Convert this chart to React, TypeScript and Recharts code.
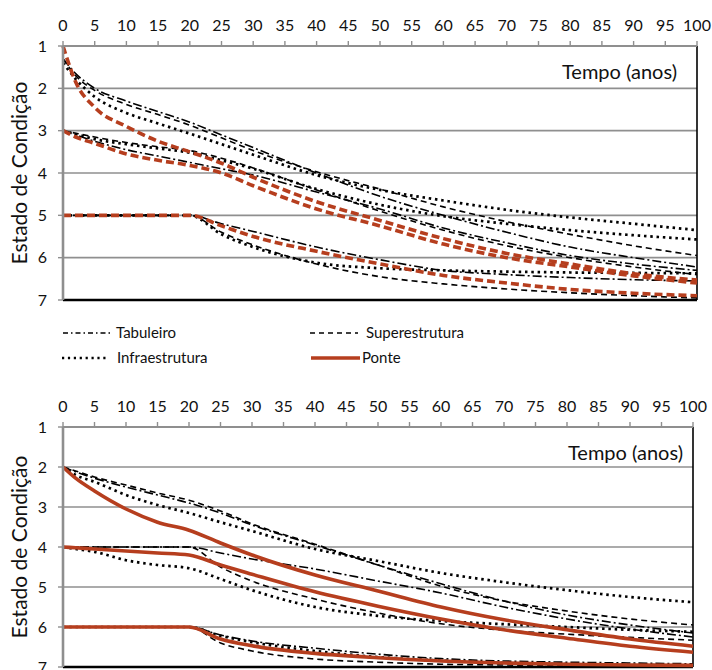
import React from 'react';
import { LineChart, Line, XAxis, YAxis, CartesianGrid, ReferenceLine, Label } from 'recharts';

// ---------- data ----------
const ANOS = [0, 2, 5, 10, 15, 20, 25, 30, 40, 50, 60, 70, 80, 90, 100];
const TICKS_X = [0, 5, 10, 15, 20, 25, 30, 35, 40, 45, 50, 55, 60, 65, 70, 75, 80, 85, 90, 95, 100];
const TICKS_Y = [1, 2, 3, 4, 5, 6, 7];

// top panel (Ponte dashed)
const tabA_top = [1.3, 1.65, 2.0, 2.3, 2.55, 2.8, 3.1, 3.4, 4.0, 4.55, 5.0, 5.4, 5.75, 6.0, 6.22];
const supA_top = [1.3, 1.7, 2.05, 2.38, 2.62, 2.87, 3.17, 3.47, 3.97, 4.38, 4.8, 5.15, 5.45, 5.72, 5.95];
const infA_top = [1.4, 1.78, 2.2, 2.58, 2.83, 3.07, 3.32, 3.57, 4.05, 4.4, 4.65, 4.87, 5.05, 5.2, 5.35];
const ponA_top = [1.0, 1.85, 2.45, 2.9, 3.25, 3.5, 3.77, 4.1, 4.68, 5.12, 5.55, 5.9, 6.15, 6.38, 6.53];

const tabB_top = [3.0, 3.1, 3.25, 3.45, 3.6, 3.75, 3.9, 4.05, 4.45, 4.85, 5.3, 5.65, 5.95, 6.15, 6.3];
const supB_top = [3.0, 3.06, 3.15, 3.28, 3.38, 3.47, 3.65, 3.88, 4.4, 4.9, 5.35, 5.72, 6.0, 6.22, 6.4];
const infB_top = [3.0, 3.08, 3.2, 3.32, 3.42, 3.52, 3.7, 3.9, 4.38, 4.75, 5.02, 5.2, 5.35, 5.47, 5.57];
const ponB_top = [3.0, 3.15, 3.3, 3.55, 3.7, 3.82, 4.0, 4.3, 4.85, 5.25, 5.68, 6.0, 6.22, 6.43, 6.6];

const tabC_top = [5, 5, 5, 5, 5, 5, 5.2, 5.38, 5.75, 6.05, 6.3, 6.4, 6.47, 6.52, 6.55];
const supC_top = [5, 5, 5, 5, 5, 5, 5.4, 5.7, 6.15, 6.45, 6.62, 6.74, 6.83, 6.9, 6.95];
const infC_top = [5, 5, 5, 5, 5, 5, 5.45, 5.75, 6.12, 6.25, 6.3, 6.33, 6.35, 6.36, 6.37];
const ponC_top = [5, 5, 5, 5, 5, 5, 5.25, 5.5, 5.85, 6.15, 6.42, 6.6, 6.75, 6.84, 6.9];

// bottom panel (Ponte solid)
const tabA_bot = [2.0, 2.12, 2.28, 2.5, 2.7, 2.9, 3.15, 3.45, 3.95, 4.45, 4.92, 5.35, 5.7, 5.95, 6.15];
const supA_bot = [2.0, 2.1, 2.25, 2.45, 2.65, 2.83, 3.1, 3.42, 3.93, 4.45, 4.98, 5.35, 5.6, 5.8, 5.95];
const infA_bot = [2.0, 2.2, 2.37, 2.7, 2.95, 3.15, 3.38, 3.6, 4.05, 4.35, 4.65, 4.88, 5.08, 5.25, 5.38];
const ponA_bot = [2.0, 2.28, 2.6, 3.05, 3.38, 3.58, 3.9, 4.2, 4.7, 5.1, 5.5, 5.82, 6.07, 6.3, 6.48];

const tabB_bot = [4, 4, 4, 4, 4, 4, 4.15, 4.3, 4.55, 4.85, 5.15, 5.5, 5.8, 6.05, 6.25];
const supB_bot = [4, 4, 4, 4, 4, 4, 4.5, 4.85, 5.3, 5.65, 5.92, 6.08, 6.18, 6.26, 6.33];
const infB_bot = [4.0, 4.05, 4.12, 4.33, 4.45, 4.53, 4.8, 5.08, 5.5, 5.72, 5.85, 5.93, 6.0, 6.07, 6.12];
const ponB_bot = [4.0, 4.02, 4.05, 4.1, 4.15, 4.2, 4.45, 4.68, 5.12, 5.48, 5.8, 6.07, 6.28, 6.48, 6.63];

const tabC_bot = [6, 6, 6, 6, 6, 6, 6.2, 6.35, 6.53, 6.68, 6.79, 6.85, 6.88, 6.9, 6.92];
const supC_bot = [6, 6, 6, 6, 6, 6, 6.4, 6.6, 6.8, 6.88, 6.93, 6.95, 6.97, 6.98, 6.98];
const infC_bot = [6, 6, 6, 6, 6, 6, 6.22, 6.38, 6.6, 6.75, 6.84, 6.9, 6.93, 6.95, 6.96];
const ponC_bot = [6, 6, 6, 6, 6, 6, 6.3, 6.47, 6.66, 6.77, 6.85, 6.9, 6.93, 6.95, 6.96];

const LEGEND_NAMES = ['Tabuleiro', 'Superestrutura', 'Infraestrutura', 'Ponte'];

// ---------- styles ----------
const FONT = 'Lato, "Open Sans", sans-serif';
const RED = '#B63E1E';
const GRID = '#8f8f8f';
const KIND: Record<string, any> = {
  tab: { stroke: '#000', strokeWidth: 1.6, strokeDasharray: '9 3 2 3' },
  sup: { stroke: '#000', strokeWidth: 1.6, strokeDasharray: '6 4' },
  inf: { stroke: '#000', strokeWidth: 2.7, strokeDasharray: '2.5 3.8' },
  ponDash: { stroke: RED, strokeWidth: 3.6, strokeDasharray: '8 4' },
  ponSolid: { stroke: RED, strokeWidth: 3.6 },
};

type S = { key: string; vals: number[]; kind: string };

const topSeries: S[] = [
  { key: 'tabA', vals: tabA_top, kind: 'tab' },
  { key: 'supA', vals: supA_top, kind: 'sup' },
  { key: 'infA', vals: infA_top, kind: 'inf' },
  { key: 'tabB', vals: tabB_top, kind: 'tab' },
  { key: 'supB', vals: supB_top, kind: 'sup' },
  { key: 'infB', vals: infB_top, kind: 'inf' },
  { key: 'tabC', vals: tabC_top, kind: 'tab' },
  { key: 'supC', vals: supC_top, kind: 'sup' },
  { key: 'infC', vals: infC_top, kind: 'inf' },
  { key: 'ponA', vals: ponA_top, kind: 'ponDash' },
  { key: 'ponB', vals: ponB_top, kind: 'ponDash' },
  { key: 'ponC', vals: ponC_top, kind: 'ponDash' },
];

const botSeries: S[] = [
  { key: 'tabA', vals: tabA_bot, kind: 'tab' },
  { key: 'supA', vals: supA_bot, kind: 'sup' },
  { key: 'infA', vals: infA_bot, kind: 'inf' },
  { key: 'tabB', vals: tabB_bot, kind: 'tab' },
  { key: 'supB', vals: supB_bot, kind: 'sup' },
  { key: 'infB', vals: infB_bot, kind: 'inf' },
  { key: 'tabC', vals: tabC_bot, kind: 'tab' },
  { key: 'supC', vals: supC_bot, kind: 'sup' },
  { key: 'infC', vals: infC_bot, kind: 'inf' },
  { key: 'ponA', vals: ponA_bot, kind: 'ponSolid' },
  { key: 'ponB', vals: ponB_bot, kind: 'ponSolid' },
  { key: 'ponC', vals: ponC_bot, kind: 'ponSolid' },
];

function buildRows(series: S[]) {
  return ANOS.map((t, i) => {
    const r: any = { t };
    series.forEach((s) => (r[s.key] = s.vals[i]));
    return r;
  });
}

function Panel({ series, top, height, margin, tempoDx }: any) {
  const rows = buildRows(series);
  return (
    <div style={{ position: 'absolute', left: 0, top, width: 712, height }}>
      <LineChart width={712} height={height} data={rows} margin={margin}>
        <CartesianGrid vertical={false} stroke={GRID} strokeWidth={1.6} />
        <XAxis
          type="number"
          dataKey="t"
          orientation="top"
          domain={[0, 100]}
          ticks={TICKS_X}
          interval={0}
          height={30}
          tickSize={5}
          tickMargin={10}
          axisLine={{ stroke: GRID, strokeWidth: 2.2 }}
          tickLine={{ stroke: GRID, strokeWidth: 1.4 }}
          tick={{ fontSize: 16, fill: '#111', fontFamily: FONT }}
        >
          <Label
            content={(p: any) => {
              const vb = p.viewBox;
              return (
                <text
                  x={vb.x + vb.width - tempoDx}
                  y={vb.y + vb.height + 33}
                  textAnchor="end"
                  fontSize={20}
                  fontFamily={FONT}
                  fill="#111"
                >
                  Tempo (anos)
                </text>
              );
            }}
          />
        </XAxis>
        <YAxis
          type="number"
          domain={[1, 7]}
          reversed
          ticks={TICKS_Y}
          interval={0}
          width={40}
          tickSize={5}
          tickMargin={11}
          axisLine={{ stroke: GRID, strokeWidth: 2.6 }}
          tickLine={{ stroke: GRID, strokeWidth: 1.4 }}
          tick={{ fontSize: 16, fill: '#111', fontFamily: FONT }}
        >
          <Label
            content={(p: any) => {
              const vb = p.viewBox;
              const cx = 18;
              const cy = vb.y + vb.height / 2;
              return (
                <text
                  x={cx}
                  y={cy}
                  transform={`rotate(-90 ${cx} ${cy})`}
                  textAnchor="middle"
                  dominantBaseline="central"
                  fontSize={21}
                  fontFamily={FONT}
                  fill="#111"
                >
                  Estado de Condição
                </text>
              );
            }}
          />
        </YAxis>
        <ReferenceLine x={100} stroke="#000" strokeWidth={1.6} />
        <ReferenceLine y={7} stroke="#000" strokeWidth={2.6} />
        {series.map((s: S) => (
          <Line
            key={s.key}
            dataKey={s.key}
            type="monotone"
            dot={false}
            activeDot={false}
            isAnimationActive={false}
            {...KIND[s.kind]}
          />
        ))}
      </LineChart>
    </div>
  );
}

function LegendBlock() {
  const ty = { fontSize: 15, fontFamily: FONT, fill: '#111' };
  return (
    <svg style={{ position: 'absolute', left: 0, top: 310, width: 712, height: 65 }} width={712} height={65}>
      <line x1={63} x2={113} y1={23} y2={23} stroke="#000" strokeWidth={1.4} strokeDasharray="5 3 1.5 3" />
      <text x={116} y={28} {...ty}>{LEGEND_NAMES[0]}</text>
      <line x1={310} x2={358} y1={23} y2={23} stroke="#000" strokeWidth={1.4} strokeDasharray="5 4" />
      <text x={366} y={28} {...ty}>{LEGEND_NAMES[1]}</text>
      <line x1={62} x2={109} y1={48} y2={48} stroke="#000" strokeWidth={2.4} strokeDasharray="2.2 3.7" />
      <text x={117} y={53} {...ty}>{LEGEND_NAMES[2]}</text>
      <line x1={311} x2={360} y1={48} y2={48} stroke={RED} strokeWidth={3.4} />
      <text x={362} y={53} {...ty}>{LEGEND_NAMES[3]}</text>
    </svg>
  );
}

export default function App() {
  return (
    <div style={{ position: 'absolute', left: 0, top: 0, width: 712, height: 670, background: '#fff', overflow: 'hidden' }}>
      <Panel series={topSeries} top={0} height={310} margin={{ top: 16, right: 15, bottom: 10, left: 23 }} tempoDx={20} />
      <LegendBlock />
      <Panel series={botSeries} top={380} height={290} margin={{ top: 17, right: 19, bottom: 3, left: 23 }} tempoDx={10} />
    </div>
  );
}
